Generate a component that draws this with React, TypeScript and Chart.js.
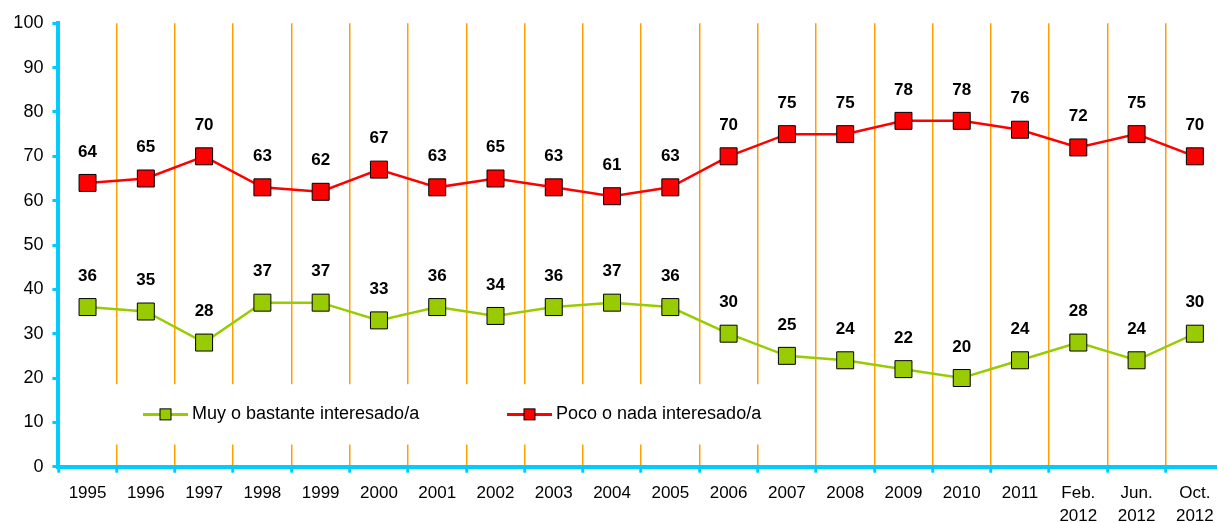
import React, { useEffect, useRef } from "react";
import { Chart, registerables } from "chart.js";

Chart.register(...registerables);

const categories: (string | string[])[] = [
  "1995", "1996", "1997", "1998", "1999", "2000", "2001", "2002", "2003", "2004",
  "2005", "2006", "2007", "2008", "2009", "2010", "2011",
  ["Feb.", "2012"], ["Jun.", "2012"], ["Oct.", "2012"],
];
const muyInteresado = [36, 35, 28, 37, 37, 33, 36, 34, 36, 37, 36, 30, 25, 24, 22, 20, 24, 28, 24, 30];
const pocoInteresado = [64, 65, 70, 63, 62, 67, 63, 65, 63, 61, 63, 70, 75, 75, 78, 78, 76, 72, 75, 70];
const seriesNames = ["Muy o bastante interesado/a", "Poco o nada interesado/a"];
const yTicks = [0, 10, 20, 30, 40, 50, 60, 70, 80, 90, 100];

const GREEN = "#99CC00";
const RED = "#FF0000";
const CYAN = "#00CCFF";
const ORANGE = "#FFA000";
const FONT = "Arial, 'Liberation Sans', sans-serif";

export default function App() {
  const ref = useRef<HTMLCanvasElement | null>(null);

  useEffect(() => {
    if (!ref.current) return;

    const legendPlugin = {
      id: "insideLegend",
      beforeDatasetsDraw(chart: any) {
        const ctx = chart.ctx;
        const area = chart.chartArea;
        const yScale = chart.scales.y;
        const top = yScale.getPixelForValue(18.6);
        const bottom = yScale.getPixelForValue(5);
        ctx.save();
        ctx.fillStyle = "#ffffff";
        ctx.fillRect(area.left + 3, top, 790 - area.left, bottom - top);
        const cy = yScale.getPixelForValue(11.8);
        const items = [
          { x: 143, color: GREEN, text: seriesNames[0] },
          { x: 507, color: RED, text: seriesNames[1] },
        ];
        for (const it of items) {
          ctx.strokeStyle = it.color;
          ctx.lineWidth = 3;
          ctx.beginPath();
          ctx.moveTo(it.x, cy);
          ctx.lineTo(it.x + 45, cy);
          ctx.stroke();
          ctx.fillStyle = it.color;
          ctx.fillRect(it.x + 22.5 - 5.5, cy - 5.5, 11, 11);
          ctx.strokeStyle = "#000";
          ctx.lineWidth = 1;
          ctx.strokeRect(it.x + 22.5 - 5.5, cy - 5.5, 11, 11);
          ctx.fillStyle = "#000";
          ctx.font = `18px ${FONT}`;
          ctx.textBaseline = "middle";
          ctx.textAlign = "left";
          ctx.fillText(it.text, it.x + 49, cy);
        }
        ctx.restore();
      },
    };

    const labelPlugin = {
      id: "valueLabels",
      afterDatasetsDraw(chart: any) {
        const ctx = chart.ctx;
        ctx.save();
        ctx.font = `bold 17px ${FONT}`;
        ctx.fillStyle = "#000";
        ctx.textAlign = "center";
        ctx.textBaseline = "middle";
        chart.data.datasets.forEach((ds: any, i: number) => {
          const meta = chart.getDatasetMeta(i);
          meta.data.forEach((pt: any, j: number) => {
            ctx.fillText(String(Math.round(ds.data[j])), pt.x, pt.y - 31);
          });
        });
        ctx.restore();
      },
    };

    const chart = new Chart(ref.current, {
      type: "line",
      data: {
        labels: categories,
        datasets: [
          {
            label: seriesNames[0],
            data: muyInteresado,
            borderColor: GREEN,
            backgroundColor: GREEN,
            borderWidth: 2.5,
            pointStyle: "rect",
            pointRadius: 12,
            pointBorderColor: "#000",
            pointBorderWidth: 1,
            pointBackgroundColor: GREEN,
            tension: 0,
          },
          {
            label: seriesNames[1],
            data: pocoInteresado,
            borderColor: RED,
            backgroundColor: RED,
            borderWidth: 2.5,
            pointStyle: "rect",
            pointRadius: 12,
            pointBorderColor: "#000",
            pointBorderWidth: 1,
            pointBackgroundColor: RED,
            tension: 0,
          },
        ],
      },
      options: {
        animation: false,
        responsive: false,
        maintainAspectRatio: false,
        layout: { autoPadding: false, padding: { top: 23.3, right: 0, left: 0, bottom: 0 } },
        plugins: {
          legend: { display: false },
          tooltip: { enabled: false },
        },
        scales: {
          x: {
            offset: true,
            grid: {
              offset: true,
              color: ORANGE,
              lineWidth: 1.5,
              tickColor: CYAN,
              tickWidth: 3,
              tickLength: 6,
            },
            border: { color: CYAN, width: 4 },
            ticks: {
              color: "#000",
              font: { family: FONT, size: 17, lineHeight: 1.35 },
              padding: 9,
              maxRotation: 0,
              autoSkip: false,
            },
            afterFit(scale: any) {
              scale.height = 56.3;
              scale.paddingLeft = 0;
              scale.paddingRight = 0;
            },
          },
          y: {
            min: 0,
            max: 100,
            afterBuildTicks(scale: any) {
              scale.ticks = yTicks.map((v) => ({ value: v }));
            },
            grid: {
              drawOnChartArea: false,
              tickColor: CYAN,
              tickWidth: 3,
              tickLength: 6,
            },
            border: { color: CYAN, width: 4 },
            ticks: {
              color: "#000",
              font: { family: FONT, size: 18 },
              padding: 9,
            },
            afterFit(scale: any) {
              scale.width = 58.4;
            },
          },
        },
      },
      plugins: [legendPlugin, labelPlugin],
    });

    return () => chart.destroy();
  }, []);

  return (
    <div style={{ position: "absolute", left: 0, top: 0, width: 1217, height: 523, overflow: "hidden", background: "#fff" }}>
      <canvas ref={ref} width={1224} height={523} style={{ display: "block", width: 1224, height: 523 }} />
    </div>
  );
}
